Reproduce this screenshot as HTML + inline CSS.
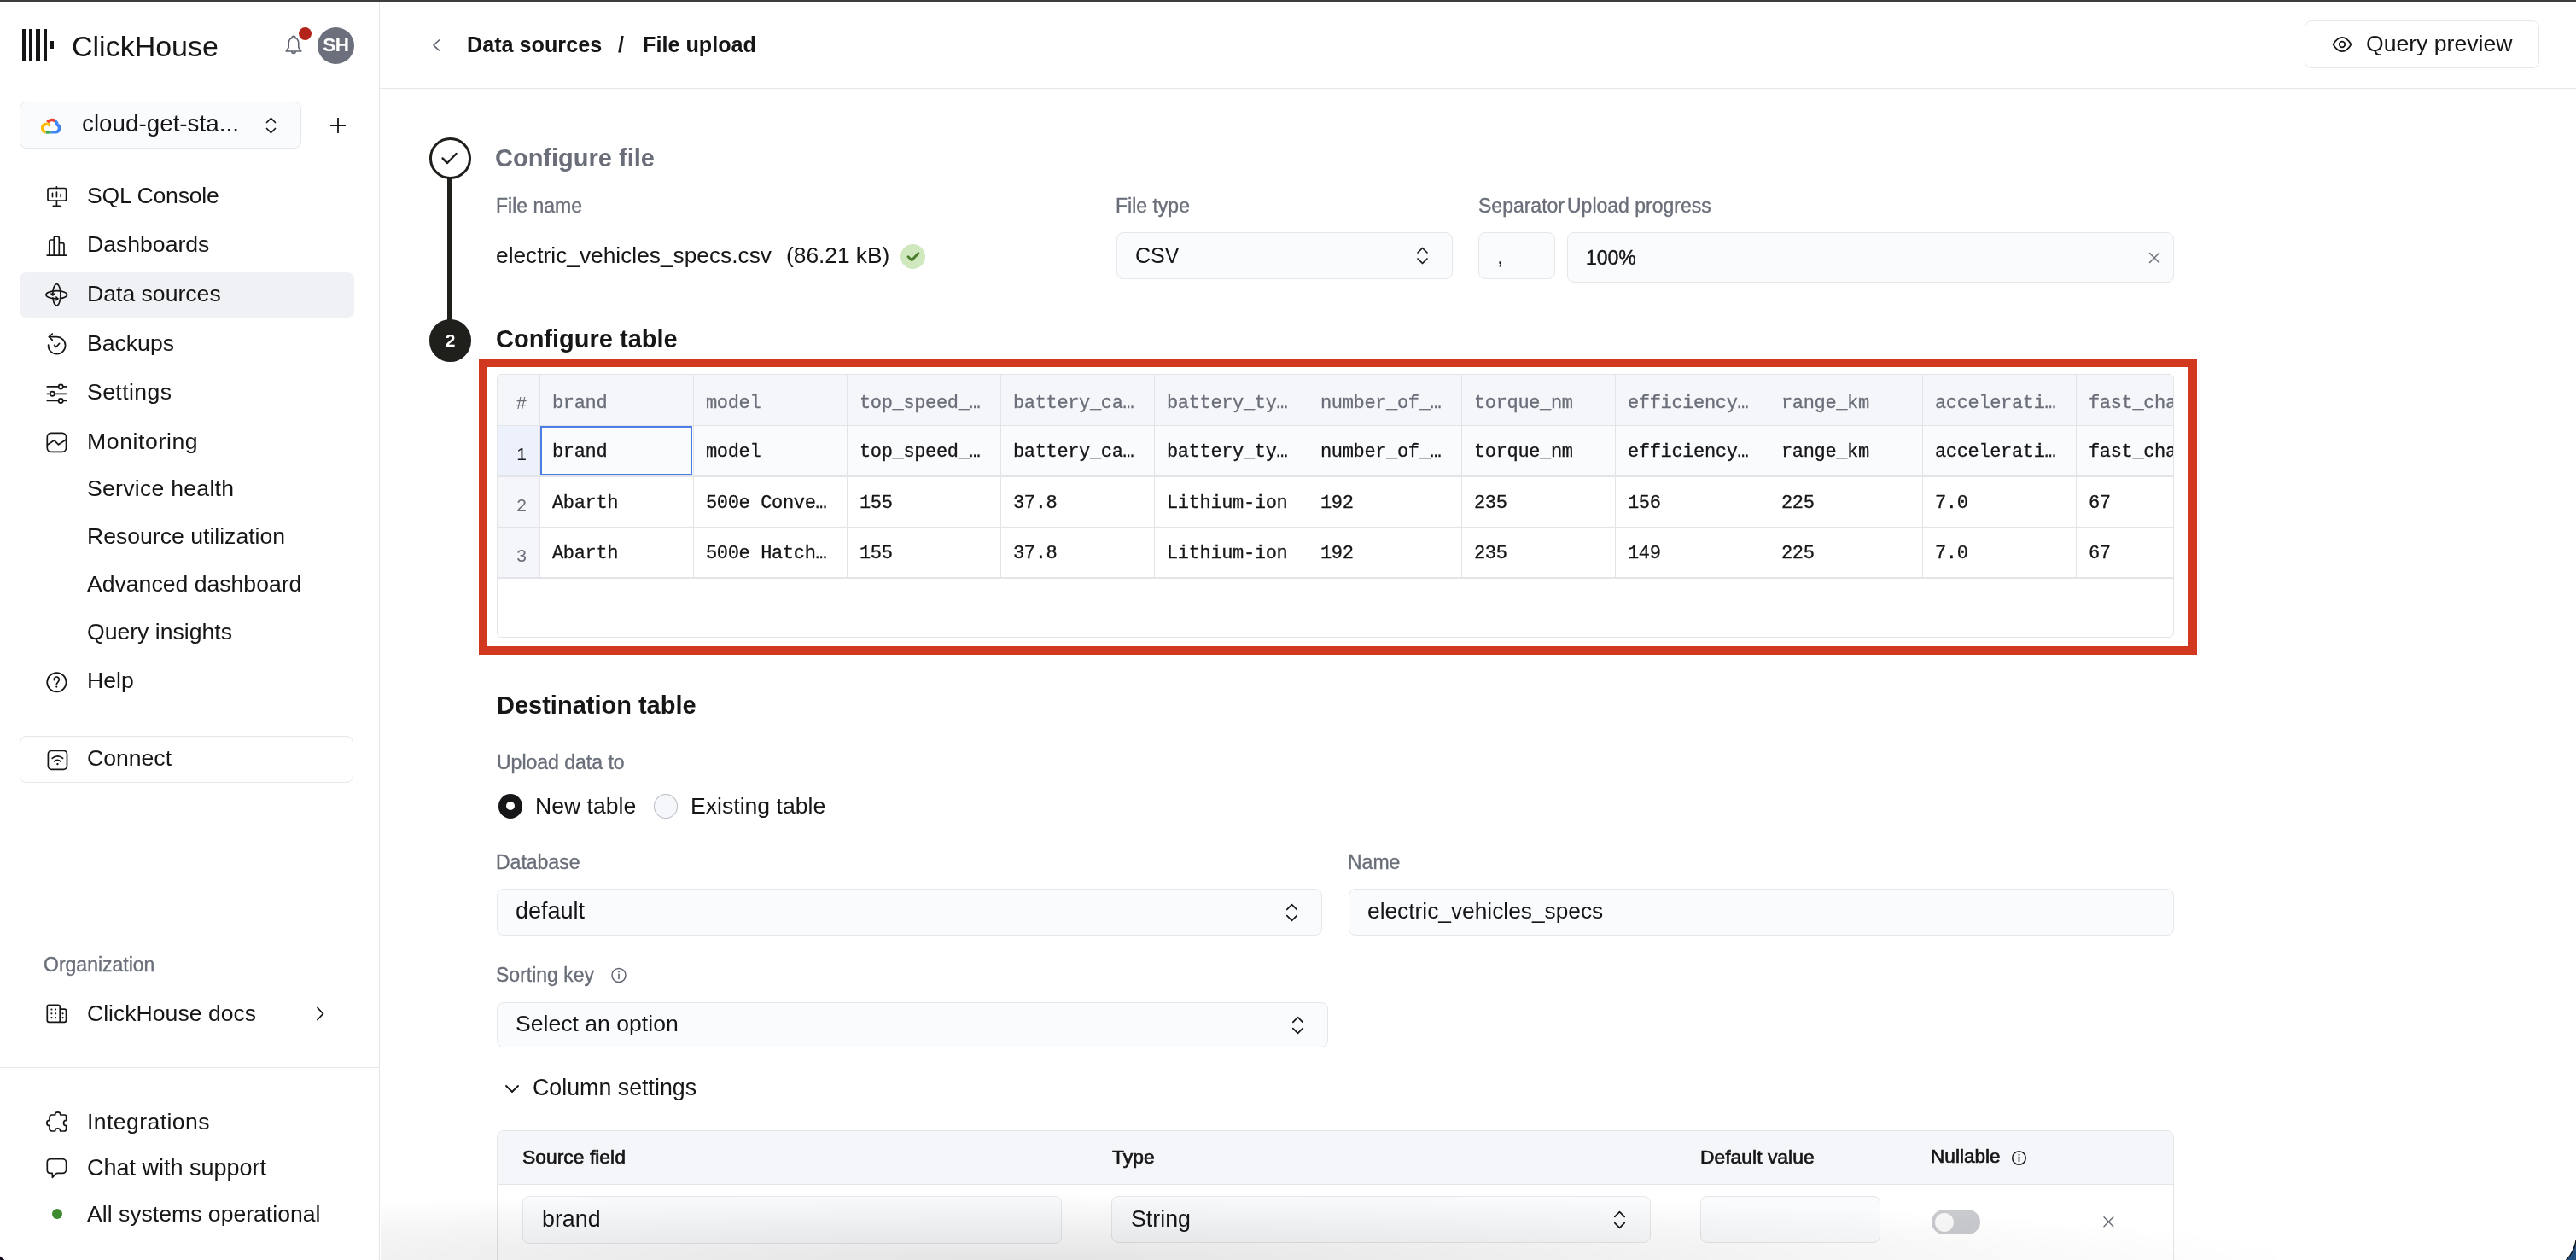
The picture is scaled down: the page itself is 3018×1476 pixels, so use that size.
<!DOCTYPE html>
<html>
<head>
<meta charset="utf-8">
<style>
html,body{margin:0;padding:0;}
body{width:3018px;height:1476px;position:relative;overflow:hidden;background:#fff;-webkit-font-smoothing:antialiased;font-family:"Liberation Sans",sans-serif;color:#161517;}
.a{position:absolute;}
.t{position:absolute;white-space:nowrap;line-height:1;will-change:transform;}
.n{font-size:26.6px;}
.sb{font-size:22.9px;-webkit-text-stroke:0.65px #161517;}
.lbl{font-size:23px;color:#696e79;-webkit-text-stroke:0.35px #696e79;}
.m{font-family:"Liberation Mono",monospace;font-size:22px;letter-spacing:-0.35px;-webkit-text-stroke-width:0.3px;}
.box{position:absolute;box-sizing:border-box;border:1.5px solid #e6e7eb;border-radius:8px;background:#fafbfd;}
svg{position:absolute;overflow:visible;}
</style>
</head>
<body>
<!-- top dark strip -->
<div class="a" style="left:0;top:0;width:3018px;height:2px;background:#3c3d3c;"></div>

<!-- ============ SIDEBAR ============ -->
<div class="a" style="left:444px;top:2px;width:1.2px;height:1474px;background:#e3e4e8;"></div>

<!-- logo -->
<div class="a" style="left:26.2px;top:34px;width:4.2px;height:36.7px;background:#161517;"></div>
<div class="a" style="left:34.3px;top:34px;width:4.2px;height:36.7px;background:#161517;"></div>
<div class="a" style="left:42.4px;top:34px;width:4.2px;height:36.7px;background:#161517;"></div>
<div class="a" style="left:50.5px;top:34px;width:4.2px;height:36.7px;background:#161517;"></div>
<div class="a" style="left:58.8px;top:48.3px;width:4.1px;height:8.4px;background:#161517;"></div>
<div class="t" style="left:84px;top:37.1px;font-size:34px;">ClickHouse</div>

<!-- bell -->
<svg style="left:333px;top:41px" width="22" height="25" viewBox="0 0 22 25">
  <path d="M11 3.2 C6.8 3.2 5.2 6.5 5.2 10 L5.2 14.5 L2.2 19 L19.8 19 L16.8 14.5 L16.8 10 C16.8 6.5 15.2 3.2 11 3.2 Z" fill="none" stroke="#5f6470" stroke-width="1.6" stroke-linejoin="round"/>
  <path d="M9 3.3 A2 2 0 0 1 13 3.3" fill="none" stroke="#5f6470" stroke-width="1.6"/>
  <path d="M8.8 19.2 A2.2 2.2 0 0 0 13.2 19.2" fill="none" stroke="#5f6470" stroke-width="1.6"/>
</svg>
<div class="a" style="left:350px;top:31.5px;width:15px;height:15px;border-radius:50%;background:#b3231a;"></div>
<div class="a" style="left:372px;top:32px;width:42.8px;height:42.8px;border-radius:50%;background:#6b707c;"></div>
<div class="t" style="left:372px;top:41.5px;width:42.8px;text-align:center;font-size:22.5px;font-weight:700;color:#fff;letter-spacing:-0.6px;">SH</div>

<!-- service selector -->
<div class="box" style="left:23px;top:119px;width:330px;height:55px;"></div>
<svg style="left:47px;top:137px" width="25" height="20" viewBox="0 0 25 20">
  <path d="M8.5 6.2 A7 7 0 0 1 17.6 4.6" fill="none" stroke="#ea4335" stroke-width="3.6"/>
  <path d="M17.6 4.6 A7.2 7.2 0 0 1 20.2 9.2 A4.6 4.6 0 0 1 18.5 17.8 L12.6 17.8" fill="none" stroke="#4285f4" stroke-width="3.6"/>
  <path d="M12.6 17.8 L6.5 17.8" fill="none" stroke="#34a853" stroke-width="3.6"/>
  <path d="M6.5 17.8 A4.8 4.8 0 0 1 6.6 8.4 A5 5 0 0 1 11.6 10.3" fill="none" stroke="#fbbc04" stroke-width="3.6"/>
</svg>
<div class="t n" style="left:96px;top:131.4px;font-size:27.8px;">cloud-get-sta...</div>
<svg style="left:311px;top:137px" width="13" height="20" viewBox="0 0 13 20">
  <path d="M1.5 6.5 L6.5 1.5 L11.5 6.5 M1.5 13.5 L6.5 18.5 L11.5 13.5" fill="none" stroke="#161517" stroke-width="1.7" stroke-linecap="round" stroke-linejoin="round"/>
</svg>
<svg style="left:386px;top:137px" width="20" height="20" viewBox="0 0 20 20">
  <path d="M10 1 L10 19 M1 10 L19 10" fill="none" stroke="#161517" stroke-width="1.8"/>
</svg>

<!-- nav highlight -->
<div class="a" style="left:23px;top:319px;width:392px;height:53px;border-radius:8px;background:#f0f1f4;"></div>

<!-- nav icons -->
<svg style="left:48px;top:210px" width="40" height="40" viewBox="0 0 40 40">
  <g fill="none" stroke="#161517" stroke-width="1.7" stroke-linecap="round" stroke-linejoin="round">
    <rect x="8" y="10.5" width="21.6" height="14.5" rx="1.8"/>
    <path d="M18.4 10.5 L18.4 8.8 M18.4 25 L18.4 31.3 M14.3 31.3 L22.5 31.3 M13.5 16.3 L13.5 20.6 M18.4 15 L18.4 20.6 M23.2 17.6 L23.2 20.6"/>
  </g>
</svg>
<svg style="left:48px;top:268px" width="40" height="40" viewBox="0 0 40 40">
  <g fill="none" stroke="#161517" stroke-width="1.7" stroke-linecap="round" stroke-linejoin="round">
    <path d="M7.2 31.1 L29.7 31.1 M9.8 31.1 L9.8 15 A2 2 0 0 1 11.8 13 L15.2 13 L15.2 31.1 M15.2 13 L15.2 11.2 A2 2 0 0 1 17.2 9.2 L19.3 9.2 A2 2 0 0 1 21.3 11.2 L21.3 31.1 M21.3 16.7 L25 16.7 A2 2 0 0 1 27 18.7 L27 31.1"/>
  </g>
</svg>
<svg style="left:48px;top:325px" width="40" height="40" viewBox="0 0 40 40">
  <g fill="none" stroke="#161517" stroke-width="1.7" stroke-linecap="round" stroke-linejoin="round">
    <path d="M13.8 20.6 A4.6 12.6 0 1 1 13.98 23.8"/>
    <path d="M19.8 24.88 A12.4 4.6 0 1 1 22.5 24.64"/>
    <path d="M12 19 L13.8 20.9 L15.6 19.2 M17.9 23 L19.8 24.9 L17.9 26.7"/>
  </g>
</svg>
<svg style="left:48px;top:383px" width="40" height="40" viewBox="0 0 40 40">
  <g fill="none" stroke="#161517" stroke-width="1.7" stroke-linecap="round" stroke-linejoin="round">
    <path d="M9.5 11.7 L18.4 11.7 A10 10 0 1 1 8.6 21.2"/>
    <path d="M13.3 8 L9.5 11.7 L13.3 15.4"/>
    <path d="M15.6 21.3 L17.8 23.5 L21.6 19.4"/>
  </g>
</svg>
<svg style="left:48px;top:440px" width="40" height="40" viewBox="0 0 40 40">
  <g fill="none" stroke="#161517" stroke-width="1.7" stroke-linecap="round" stroke-linejoin="round">
    <path d="M7.3 12.9 L20.6 12.9 M25.8 12.9 L29.6 12.9 M7.3 21.3 L10.7 21.3 M15.9 21.3 L29.6 21.3 M7.3 29.5 L20.6 29.5 M25.8 29.5 L29.6 29.5"/>
    <circle cx="23.2" cy="12.9" r="2.6"/><circle cx="13.3" cy="21.3" r="2.6"/><circle cx="23.2" cy="29.5" r="2.6"/>
  </g>
</svg>
<svg style="left:48px;top:498px" width="40" height="40" viewBox="0 0 40 40">
  <g fill="none" stroke="#161517" stroke-width="1.7" stroke-linecap="round" stroke-linejoin="round">
    <rect x="7.3" y="9.4" width="22.2" height="21.9" rx="4.5"/>
    <path d="M7.3 23.3 L15.6 17.8 L20.6 22.8 L29.3 17"/>
  </g>
</svg>
<svg style="left:48px;top:778px" width="40" height="40" viewBox="0 0 40 40">
  <g fill="none" stroke="#161517" stroke-width="1.7" stroke-linecap="round" stroke-linejoin="round">
    <circle cx="18.4" cy="21.3" r="11.2"/>
    <path d="M15.4 18.6 A3 3 0 1 1 20.6 20 L18.3 23.3"/>
  </g>
  <circle cx="18.3" cy="26.6" r="1.1" fill="#161517"/>
</svg>

<!-- nav text -->
<div class="t n" style="left:102px;top:216.4px;letter-spacing:-0.25px;">SQL Console</div>
<div class="t n" style="left:102px;top:273.4px;">Dashboards</div>
<div class="t n" style="left:102px;top:331.4px;">Data sources</div>
<div class="t n" style="left:102px;top:389.4px;">Backups</div>
<div class="t n" style="left:102px;top:446.4px;letter-spacing:0.42px;">Settings</div>
<div class="t n" style="left:102px;top:504.4px;letter-spacing:0.6px;">Monitoring</div>
<div class="t n" style="left:102px;top:559.4px;letter-spacing:0.27px;">Service health</div>
<div class="t n" style="left:102px;top:615.4px;">Resource utilization</div>
<div class="t n" style="left:102px;top:671.4px;">Advanced dashboard</div>
<div class="t n" style="left:102px;top:727.4px;">Query insights</div>
<div class="t n" style="left:102px;top:784.4px;">Help</div>

<!-- connect -->
<div class="box" style="left:23px;top:862px;width:391px;height:55px;background:#fff;"></div>
<svg style="left:48px;top:870px" width="40" height="40" viewBox="0 0 40 40">
  <g fill="none" stroke="#161517" stroke-width="1.7" stroke-linecap="round" stroke-linejoin="round">
    <rect x="8.4" y="9.4" width="22.1" height="21.9" rx="4"/>
    <path d="M13.2 18.4 A9 9 0 0 1 25.6 18.4 M15.6 21.9 A5 5 0 0 1 22.7 21.9"/>
  </g>
  <circle cx="19.4" cy="25.1" r="1.2" fill="#161517"/>
</svg>
<div class="t n" style="left:102px;top:875.4px;">Connect</div>

<div class="t" style="left:51px;top:1118.5px;font-size:23px;color:#696e79;-webkit-text-stroke:0.35px #696e79;">Organization</div>
<svg style="left:48px;top:1166px" width="40" height="40" viewBox="0 0 40 40">
  <g fill="none" stroke="#161517" stroke-width="1.7" stroke-linecap="round" stroke-linejoin="round">
    <path d="M22.2 31.3 L22.2 13.3 A2 2 0 0 0 20.2 11.3 L9.3 11.3 A2 2 0 0 0 7.3 13.3 L7.3 29.3 A2 2 0 0 0 9.3 31.3 L27.5 31.3 A2 2 0 0 0 29.5 29.3 L29.5 18.2 A2 2 0 0 0 27.5 16.2 L22.2 16.2"/>
  </g>
  <g fill="#161517">
    <circle cx="12.4" cy="16.5" r="1.1"/><circle cx="17.1" cy="16.5" r="1.1"/>
    <circle cx="12.4" cy="21.3" r="1.1"/><circle cx="17.1" cy="21.3" r="1.1"/>
    <circle cx="12.4" cy="26.2" r="1.1"/><circle cx="17.1" cy="26.2" r="1.1"/>
    <circle cx="25.6" cy="21.3" r="1.1"/><circle cx="25.6" cy="26.2" r="1.1"/>
  </g>
</svg>
<div class="t n" style="left:102px;top:1174.4px;">ClickHouse docs</div>
<svg style="left:368px;top:1178px" width="14" height="20" viewBox="0 0 14 20">
  <path d="M4 2.5 L10.5 9.5 L4 16.5" fill="none" stroke="#161517" stroke-width="1.8" stroke-linecap="round" stroke-linejoin="round"/>
</svg>

<div class="a" style="left:0;top:1249.5px;width:444px;height:1.5px;background:#e6e7eb;"></div>

<svg style="left:48px;top:1292px" width="40" height="40" viewBox="0 0 40 40">
  <path d="M10 17 A3 3 0 0 1 13 14 L16.5 14 A3.2 3.2 0 0 1 22.9 14 L27.8 14 A1.8 1.8 0 0 1 29.6 15.8 L29.6 20.3 A3.1 3.1 0 0 0 29.6 26.5 L29.6 30.5 A2.5 2.5 0 0 1 27.1 33 L22.7 33 A3.1 3.1 0 0 0 16.5 33 L13 33 A3 3 0 0 1 10 30 L10 26.7 A3.2 3.2 0 0 1 10 20.3 Z" fill="none" stroke="#161517" stroke-width="1.7" stroke-linejoin="round"/>
</svg>
<svg style="left:48px;top:1346px" width="40" height="40" viewBox="0 0 40 40">
  <path d="M11 11.6 L25.3 11.6 A4.3 4.3 0 0 1 29.6 15.9 L29.6 24.1 A4.3 4.3 0 0 1 25.3 28.4 L19.5 28.4 A3 3 0 0 0 17.2 29.5 L13.4 33.3 L13.3 28.4 L11 28.4 A4 4 0 0 1 7.3 24.4 L7.3 15.6 A4 4 0 0 1 11 11.6 Z" fill="none" stroke="#161517" stroke-width="1.7" stroke-linejoin="round"/>
</svg>
<div class="a" style="left:60.6px;top:1415.6px;width:12.8px;height:12.8px;border-radius:50%;background:#3e8c2f;"></div>
<div class="t n" style="left:102px;top:1300.6px;letter-spacing:0.42px;">Integrations</div>
<div class="t n" style="left:102px;top:1354.8px;font-size:27px;">Chat with support</div>
<div class="t n" style="left:102px;top:1409px;">All systems operational</div>

<!-- MAIN_START -->
<!-- ============ MAIN ============ -->
<div class="a" style="left:445px;top:102.5px;width:2573px;height:1.5px;background:#e6e7eb;"></div>
<svg style="left:503px;top:44px" width="16" height="18" viewBox="0 0 16 18">
  <path d="M11.5 3 L5 9 L11.5 15" fill="none" stroke="#5f6470" stroke-width="1.7" stroke-linecap="round" stroke-linejoin="round"/>
</svg>
<div class="t" style="left:547px;top:40px;font-size:25.2px;font-weight:700;">Data sources</div>
<div class="t" style="left:724px;top:40px;font-size:25.2px;font-weight:700;">/</div>
<div class="t" style="left:753px;top:40px;font-size:25.2px;font-weight:700;">File upload</div>

<div class="box" style="left:2700px;top:24px;width:275px;height:55.5px;background:#fff;"></div>
<svg style="left:2730px;top:40px" width="28" height="24" viewBox="0 0 28 24">
  <path d="M3.5 12 C6.8 6.3 10.3 3.9 14 3.9 C17.7 3.9 21.2 6.3 24.5 12 C21.2 17.7 17.7 20.1 14 20.1 C10.3 20.1 6.8 17.7 3.5 12 Z" fill="none" stroke="#161517" stroke-width="1.7" stroke-linejoin="round"/>
  <circle cx="14" cy="12" r="3.3" fill="none" stroke="#161517" stroke-width="1.7"/>
</svg>
<div class="t n" style="left:2772px;top:38.4px;">Query preview</div>

<!-- step indicator -->
<div class="a" style="left:503.1px;top:161.1px;width:48.7px;height:48.7px;box-sizing:border-box;border:3px solid #1f201c;border-radius:50%;"></div>
<svg style="left:503px;top:161px" width="49" height="49" viewBox="0 0 49 49">
  <path d="M15.6 24.5 L21 30 L31.5 19" fill="none" stroke="#1f201c" stroke-width="2.5" stroke-linecap="round" stroke-linejoin="round"/>
</svg>
<div class="a" style="left:524px;top:209px;width:6px;height:166px;background:#1f201c;"></div>
<div class="a" style="left:502.8px;top:374.3px;width:49.4px;height:49.4px;border-radius:50%;background:#1f201c;"></div>
<div class="t" style="left:502.8px;top:388px;width:49.4px;text-align:center;font-size:21px;font-weight:700;color:#fff;">2</div>

<div class="t" style="left:580px;top:171.4px;font-size:29px;font-weight:700;color:#696e79;">Configure file</div>

<div class="t lbl" style="left:581px;top:229.5px;">File name</div>
<div class="t lbl" style="left:1307px;top:229.5px;">File type</div>
<div class="t lbl" style="left:1731.5px;top:229.5px;">Separator</div>
<div class="t lbl" style="left:1836px;top:229.5px;">Upload progress</div>

<div class="t n" style="left:581px;top:285.9px;font-size:26.3px;">electric_vehicles_specs.csv</div>
<div class="t n" style="left:921px;top:285.9px;font-size:26.3px;">(86.21 kB)</div>
<div class="a" style="left:1055px;top:285.7px;width:29px;height:29px;border-radius:50%;background:#cfe8bd;"></div>
<svg style="left:1055px;top:285.7px" width="29" height="29" viewBox="0 0 29 29">
  <path d="M9 14.8 L13.3 18.8 L20.9 10.7" fill="none" stroke="#4a7d2c" stroke-width="2.9" stroke-linecap="round" stroke-linejoin="round"/>
</svg>

<div class="box" style="left:1307.5px;top:272px;width:394.5px;height:55px;"></div>
<div class="t n" style="left:1330px;top:287.4px;font-size:25px;">CSV</div>
<svg style="left:1659px;top:289px" width="15" height="21" viewBox="0 0 15 21">
  <path d="M2 7 L7.5 1.5 L13 7 M2 14 L7.5 19.5 L13 14" fill="none" stroke="#161517" stroke-width="1.7" stroke-linecap="round" stroke-linejoin="round"/>
</svg>
<div class="box" style="left:1731.5px;top:272px;width:90px;height:55px;"></div>
<div class="t n" style="left:1754px;top:287.4px;">,</div>
<div class="box" style="left:1836px;top:272px;width:710.5px;height:58.5px;"></div>
<div class="t n" style="left:1858px;top:290.5px;font-size:23px;-webkit-text-stroke-width:0.4px;">100%</div>
<svg style="left:2516px;top:294px" width="16" height="16" viewBox="0 0 16 16">
  <path d="M2.5 2.5 L13.5 13.5 M13.5 2.5 L2.5 13.5" fill="none" stroke="#6b7079" stroke-width="1.5" stroke-linecap="round"/>
</svg>

<div class="t" style="left:580.5px;top:383.4px;font-size:29px;font-weight:700;">Configure table</div>

<!-- TABLE_START -->
<div class="a" style="left:561px;top:420px;width:2013px;height:347px;box-sizing:border-box;border:10px solid #d1381f;"></div>
<div class="a" style="left:582px;top:438px;width:1964.5px;height:309px;box-sizing:border-box;border:1.5px solid #e3e4e8;border-radius:6px;overflow:hidden;background:#fff;">
<div class="a" style="left:0;top:0;width:100%;height:58.5px;background:#f5f6f9;"></div>
<div class="a" style="left:0;top:58.5px;width:48.5px;height:59.5px;background:#edf1fb;"></div>
<div class="a" style="left:0;top:118.0px;width:48.5px;height:59.5px;background:#f5f6f9;"></div>
<div class="a" style="left:0;top:177.5px;width:48.5px;height:59.5px;background:#f5f6f9;"></div>
<div class="a" style="left:48.5px;top:58.5px;width:2000px;height:59.5px;background:#fafbfd;"></div>
<div class="a" style="left:0;top:58.65px;width:100%;height:1.5px;background:#e3e4e8;"></div>
<div class="a" style="left:0;top:118.15px;width:100%;height:1.5px;background:#e3e4e8;"></div>
<div class="a" style="left:0;top:177.65px;width:100%;height:1.5px;background:#e3e4e8;"></div>
<div class="a" style="left:0;top:237.15px;width:100%;height:1.5px;background:#e3e4e8;"></div>
<div class="a" style="left:48.75px;top:0;width:1.5px;height:237.0px;background:#e3e4e8;"></div>
<div class="a" style="left:228.75px;top:0;width:1.5px;height:237.0px;background:#e3e4e8;"></div>
<div class="a" style="left:408.75px;top:0;width:1.5px;height:237.0px;background:#e3e4e8;"></div>
<div class="a" style="left:588.75px;top:0;width:1.5px;height:237.0px;background:#e3e4e8;"></div>
<div class="a" style="left:768.75px;top:0;width:1.5px;height:237.0px;background:#e3e4e8;"></div>
<div class="a" style="left:948.75px;top:0;width:1.5px;height:237.0px;background:#e3e4e8;"></div>
<div class="a" style="left:1128.75px;top:0;width:1.5px;height:237.0px;background:#e3e4e8;"></div>
<div class="a" style="left:1308.75px;top:0;width:1.5px;height:237.0px;background:#e3e4e8;"></div>
<div class="a" style="left:1488.75px;top:0;width:1.5px;height:237.0px;background:#e3e4e8;"></div>
<div class="a" style="left:1668.75px;top:0;width:1.5px;height:237.0px;background:#e3e4e8;"></div>
<div class="a" style="left:1848.75px;top:0;width:1.5px;height:237.0px;background:#e3e4e8;"></div>
<div class="t m" style="left:63.5px;top:23.480000000000018px;color:#696e79;">brand</div>
<div class="t m" style="left:243.5px;top:23.480000000000018px;color:#696e79;">model</div>
<div class="t m" style="left:423.5px;top:23.480000000000018px;color:#696e79;">top_speed_…</div>
<div class="t m" style="left:603.5px;top:23.480000000000018px;color:#696e79;">battery_ca…</div>
<div class="t m" style="left:783.5px;top:23.480000000000018px;color:#696e79;">battery_ty…</div>
<div class="t m" style="left:963.5px;top:23.480000000000018px;color:#696e79;">number_of_…</div>
<div class="t m" style="left:1143.5px;top:23.480000000000018px;color:#696e79;">torque_nm</div>
<div class="t m" style="left:1323.5px;top:23.480000000000018px;color:#696e79;">efficiency…</div>
<div class="t m" style="left:1503.5px;top:23.480000000000018px;color:#696e79;">range_km</div>
<div class="t m" style="left:1683.5px;top:23.480000000000018px;color:#696e79;">accelerati…</div>
<div class="t m" style="left:1863.5px;top:23.480000000000018px;color:#696e79;">fast_cha</div>
<div class="t" style="left:22.0px;top:21.649999999999977px;font-size:21px;color:#696e79;">#</div>
<div class="t m" style="left:63.5px;top:79.77999999999997px;">brand</div>
<div class="t m" style="left:243.5px;top:79.77999999999997px;">model</div>
<div class="t m" style="left:423.5px;top:79.77999999999997px;">top_speed_…</div>
<div class="t m" style="left:603.5px;top:79.77999999999997px;">battery_ca…</div>
<div class="t m" style="left:783.5px;top:79.77999999999997px;">battery_ty…</div>
<div class="t m" style="left:963.5px;top:79.77999999999997px;">number_of_…</div>
<div class="t m" style="left:1143.5px;top:79.77999999999997px;">torque_nm</div>
<div class="t m" style="left:1323.5px;top:79.77999999999997px;">efficiency…</div>
<div class="t m" style="left:1503.5px;top:79.77999999999997px;">range_km</div>
<div class="t m" style="left:1683.5px;top:79.77999999999997px;">accelerati…</div>
<div class="t m" style="left:1863.5px;top:79.77999999999997px;">fast_cha</div>
<div class="t" style="left:2.5px;top:81.85000000000002px;width:50px;text-align:center;font-size:21px;color:#161517;">1</div>
<div class="t m" style="left:63.5px;top:139.77999999999997px;">Abarth</div>
<div class="t m" style="left:243.5px;top:139.77999999999997px;">500e Conve…</div>
<div class="t m" style="left:423.5px;top:139.77999999999997px;">155</div>
<div class="t m" style="left:603.5px;top:139.77999999999997px;">37.8</div>
<div class="t m" style="left:783.5px;top:139.77999999999997px;">Lithium-ion</div>
<div class="t m" style="left:963.5px;top:139.77999999999997px;">192</div>
<div class="t m" style="left:1143.5px;top:139.77999999999997px;">235</div>
<div class="t m" style="left:1323.5px;top:139.77999999999997px;">156</div>
<div class="t m" style="left:1503.5px;top:139.77999999999997px;">225</div>
<div class="t m" style="left:1683.5px;top:139.77999999999997px;">7.0</div>
<div class="t m" style="left:1863.5px;top:139.77999999999997px;">67</div>
<div class="t" style="left:2.5px;top:141.85000000000002px;width:50px;text-align:center;font-size:21px;color:#696e79;">2</div>
<div class="t m" style="left:63.5px;top:198.77999999999997px;">Abarth</div>
<div class="t m" style="left:243.5px;top:198.77999999999997px;">500e Hatch…</div>
<div class="t m" style="left:423.5px;top:198.77999999999997px;">155</div>
<div class="t m" style="left:603.5px;top:198.77999999999997px;">37.8</div>
<div class="t m" style="left:783.5px;top:198.77999999999997px;">Lithium-ion</div>
<div class="t m" style="left:963.5px;top:198.77999999999997px;">192</div>
<div class="t m" style="left:1143.5px;top:198.77999999999997px;">235</div>
<div class="t m" style="left:1323.5px;top:198.77999999999997px;">149</div>
<div class="t m" style="left:1503.5px;top:198.77999999999997px;">225</div>
<div class="t m" style="left:1683.5px;top:198.77999999999997px;">7.0</div>
<div class="t m" style="left:1863.5px;top:198.77999999999997px;">67</div>
<div class="t" style="left:2.5px;top:200.85000000000002px;width:50px;text-align:center;font-size:21px;color:#696e79;">3</div>
<div class="a" style="left:49.5px;top:59.5px;width:178.6px;height:58.6px;box-sizing:border-box;border:2px solid #4d7ce6;"></div>
</div>
<!-- TABLE_END -->
<!-- DEST_START -->
<!-- destination -->
<div class="t" style="left:581.5px;top:812.4px;font-size:29px;font-weight:700;">Destination table</div>
<div class="t lbl" style="left:581.5px;top:881.5px;">Upload data to</div>
<div class="a" style="left:583.8px;top:929.8px;width:28.6px;height:28.9px;border-radius:50%;background:#161517;"></div>
<div class="a" style="left:592.8px;top:938.9px;width:10.6px;height:10.6px;border-radius:50%;background:#fff;"></div>
<div class="t n" style="left:627px;top:931.4px;">New table</div>
<div class="a" style="left:765.9px;top:929.9px;width:28.2px;height:28.8px;box-sizing:border-box;border-radius:50%;background:#f6f7fa;border:1.2px solid #b9bdc6;"></div>
<div class="t n" style="left:809px;top:931.4px;">Existing table</div>

<div class="t lbl" style="left:581px;top:998.5px;">Database</div>
<div class="t lbl" style="left:1578.5px;top:998.5px;">Name</div>
<div class="box" style="left:582px;top:1041px;width:967px;height:55px;"></div>
<div class="t n" style="left:604px;top:1054.4px;font-size:27px;">default</div>
<svg style="left:1506px;top:1058px" width="15" height="22" viewBox="0 0 15 22">
  <path d="M1.8 7.3 L7.5 1.6 L13.2 7.3 M1.8 14.7 L7.5 20.4 L13.2 14.7" fill="none" stroke="#161517" stroke-width="1.7" stroke-linecap="round" stroke-linejoin="round"/>
</svg>
<div class="box" style="left:1579.5px;top:1041px;width:967px;height:55px;"></div>
<div class="t n" style="left:1601.5px;top:1054.4px;font-size:26.3px;">electric_vehicles_specs</div>

<div class="t lbl" style="left:581px;top:1130.5px;">Sorting key</div>
<svg style="left:715px;top:1133px" width="20" height="20" viewBox="0 0 20 20">
  <circle cx="10" cy="9.5" r="8" fill="none" stroke="#5f6470" stroke-width="1.5"/>
  <path d="M10 8.2 L10 13.6" fill="none" stroke="#5f6470" stroke-width="1.6" stroke-linecap="round"/>
  <circle cx="10" cy="5.6" r="1" fill="#5f6470"/>
</svg>
<div class="box" style="left:582px;top:1174px;width:974px;height:53px;"></div>
<div class="t n" style="left:604px;top:1186.4px;">Select an option</div>
<svg style="left:1513px;top:1190px" width="15" height="22" viewBox="0 0 15 22">
  <path d="M1.8 7.3 L7.5 1.6 L13.2 7.3 M1.8 14.7 L7.5 20.4 L13.2 14.7" fill="none" stroke="#161517" stroke-width="1.7" stroke-linecap="round" stroke-linejoin="round"/>
</svg>

<svg style="left:590px;top:1268px" width="20" height="16" viewBox="0 0 20 16">
  <path d="M3 4 L10 11 L17 4" fill="none" stroke="#161517" stroke-width="1.9" stroke-linecap="round" stroke-linejoin="round"/>
</svg>
<div class="t n" style="left:624px;top:1261.4px;font-size:26.8px;">Column settings</div>

<!-- column settings table -->
<div class="a" style="left:582px;top:1324px;width:1964.5px;height:200px;box-sizing:border-box;border:1.5px solid #e3e4e8;border-radius:8px;background:#fff;overflow:hidden;">
  <div class="a" style="left:0;top:0;width:100%;height:61.5px;background:#f5f6f9;border-bottom:1.5px solid #e3e4e8;"></div>
</div>
<div class="t sb" style="left:611.5px;top:1344.4px;">Source field</div>
<div class="t sb" style="left:1302.5px;top:1344.4px;">Type</div>
<div class="t sb" style="left:1992px;top:1344.4px;">Default value</div>
<div class="t sb" style="left:2262px;top:1344.4px;font-size:22.6px;">Nullable</div>
<svg style="left:2355px;top:1347px" width="20" height="20" viewBox="0 0 20 20">
  <circle cx="10.5" cy="9.5" r="7.8" fill="none" stroke="#161517" stroke-width="1.5"/>
  <path d="M10.5 8.2 L10.5 13.4" fill="none" stroke="#161517" stroke-width="1.6" stroke-linecap="round"/>
  <circle cx="10.5" cy="5.7" r="1" fill="#161517"/>
</svg>

<div class="box" style="left:612px;top:1401.2px;width:631.7px;height:55.4px;"></div>
<div class="t n" style="left:635px;top:1415.2px;font-size:26.8px;">brand</div>
<div class="box" style="left:1302.4px;top:1401.4px;width:631.3px;height:55.1px;"></div>
<div class="t n" style="left:1325px;top:1415.2px;font-size:26.8px;">String</div>
<svg style="left:1890px;top:1418px" width="15" height="22" viewBox="0 0 15 22">
  <path d="M1.8 7.3 L7.5 1.6 L13.2 7.3 M1.8 14.7 L7.5 20.4 L13.2 14.7" fill="none" stroke="#161517" stroke-width="1.7" stroke-linecap="round" stroke-linejoin="round"/>
</svg>
<div class="box" style="left:1992.4px;top:1401.4px;width:210.6px;height:55.1px;"></div>
<div class="a" style="left:2262.5px;top:1417px;width:57.5px;height:29px;border-radius:15px;background:#c9cace;"></div>
<div class="a" style="left:2266.6px;top:1421px;width:22px;height:22px;border-radius:50%;background:#f7f7f8;"></div>
<svg style="left:2462px;top:1423px" width="16" height="16" viewBox="0 0 16 16">
  <path d="M3 2.8 L13.8 13.8 M13.8 2.8 L3 13.8" fill="none" stroke="#6b7079" stroke-width="1.5" stroke-linecap="round"/>
</svg>

<!-- bottom shadow -->
<div class="a" style="left:445.5px;top:1396px;width:2573px;height:80px;background:radial-gradient(ellipse 1500px 80px at 750px 100%, rgba(0,0,0,0.105), rgba(0,0,0,0) 100%);"></div>

<!-- DEST_END -->
<!-- window corners -->
<svg style="left:2960px;top:1430px" width="58" height="46" viewBox="2960 1430 58 46">
  <path d="M3018 1453 A42 42 0 0 1 3006.5 1476 L3018 1476 Z" fill="#24517f"/>
  <path d="M3018 1453 A42 42 0 0 1 3006.5 1476" fill="none" stroke="#111" stroke-width="1.4"/>
</svg>
<svg style="left:0;top:1466px" width="10" height="10" viewBox="0 1466 10 10">
  <path d="M0 1471.5 Q3 1474 5.5 1476 L0 1476 Z" fill="#120a1e"/>
</svg>
<!-- MAIN_END -->
</body>
</html>
